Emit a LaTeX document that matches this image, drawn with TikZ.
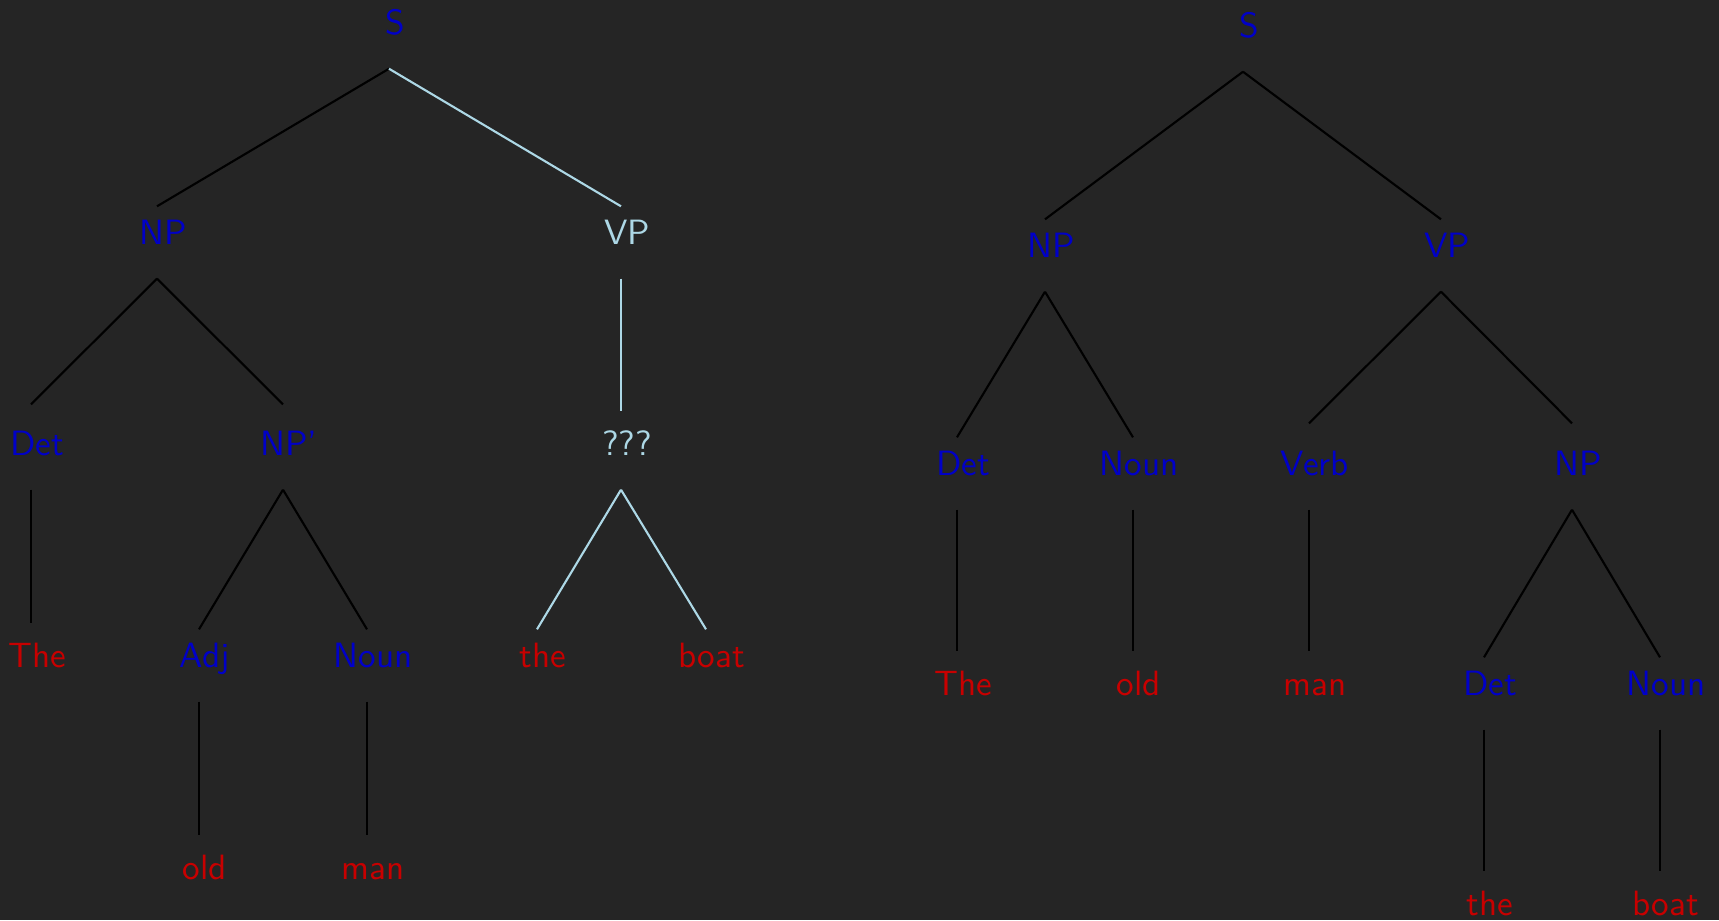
\documentclass[tikz,border=0pt]{standalone}
\usepackage{tikz}
\definecolor{bgdark}{RGB}{37,37,37}
\definecolor{catblue}{RGB}{0,0,200}
\definecolor{wordred}{RGB}{200,0,0}
\definecolor{guessblue}{RGB}{173,216,230}

\begin{document}
\begin{tikzpicture}[
    tag/.style={inner xsep=2pt, inner ysep=0pt, text height=0.375cm, text depth=0.335cm, anchor=base, font=\sffamily},
    cat/.style={tag, text=catblue},
    word/.style={tag, text=wordred},
    guess/.style={tag, text=guessblue},
    branch/.style={draw=black, line width=0.6pt, transform canvas={xshift=-0.06cm}},
    stem/.style={branch, shorten >=0.06cm}
]

% Background
\fill[bgdark] (0,0) rectangle (17.19,-9.20);
\useasboundingbox (0,0) rectangle (17.19,-9.20);

% Left tree: unknown VP
\node[cat] (s1) at (3.95,-0.345) {S};
\node[cat] (np1) at (1.63,-2.445) {NP};
\node[guess] (vp1) at (6.27,-2.445) {VP};
\node[cat] (det1) at (0.37,-4.555) {Det};
\node[cat] (npbar) at (2.89,-4.555) {NP'};
\node[guess] (qqq) at (6.27,-4.555) {???};
\node[word] (the1) at (0.37,-6.675) {The};
\node[cat] (adj) at (2.05,-6.675) {Adj};
\node[cat] (noun1) at (3.73,-6.675) {Noun};
\node[word] (the2) at (5.43,-6.675) {the};
\node[word] (boat1) at (7.12,-6.675) {boat};
\node[word] (old1) at (2.05,-8.795) {old};
\node[word] (man1) at (3.73,-8.795) {man};

\draw[branch] (s1.south) -- (np1.north);
\draw[branch, guessblue] (s1.south) -- (vp1.north);
\draw[branch] (np1.south) -- ([yshift=0.13cm]det1.north);
\draw[branch] (np1.south) -- ([yshift=0.13cm]npbar.north);
\draw[stem, guessblue] (vp1.south) -- (qqq.north);
\draw[stem] (det1.south) -- (the1.north);
\draw[branch] (npbar.south) -- (adj.north);
\draw[branch] (npbar.south) -- (noun1.north);
\draw[branch, guessblue] (qqq.south) -- (the2.north);
\draw[branch, guessblue] (qqq.south) -- (boat1.north);
\draw[stem] (adj.south) -- (old1.north);
\draw[stem] (noun1.south) -- (man1.north);

% Right tree: full parse
\node[cat] (s2) at (12.49,-0.375) {S};
\node[cat] (np2) at (10.51,-2.575) {NP};
\node[cat] (vp2) at (14.47,-2.575) {VP};
\node[cat] (det2) at (9.63,-4.755) {Det};
\node[cat] (noun2) at (11.39,-4.755) {Noun};
\node[cat] (verb2) at (13.15,-4.755) {Verb};
\node[cat] (np3) at (15.78,-4.755) {NP};
\node[word] (the3) at (9.63,-6.955) {The};
\node[word] (old2) at (11.39,-6.955) {old};
\node[word] (man2) at (13.15,-6.955) {man};
\node[cat] (det3) at (14.90,-6.955) {Det};
\node[cat] (noun3) at (16.66,-6.955) {Noun};
\node[word] (the4) at (14.90,-9.155) {the};
\node[word] (boat2) at (16.66,-9.155) {boat};

\draw[branch] (s2.south) -- (np2.north);
\draw[branch] (s2.south) -- (vp2.north);
\draw[branch] (np2.south) -- (det2.north);
\draw[branch] (np2.south) -- (noun2.north);
\draw[branch] (vp2.south) -- ([yshift=0.14cm]verb2.north);
\draw[branch] (vp2.south) -- ([yshift=0.14cm]np3.north);
\draw[stem] (det2.south) -- (the3.north);
\draw[stem] (noun2.south) -- (old2.north);
\draw[stem] (verb2.south) -- (man2.north);
\draw[branch] (np3.south) -- (det3.north);
\draw[branch] (np3.south) -- (noun3.north);
\draw[stem] (det3.south) -- (the4.north);
\draw[stem] (noun3.south) -- (boat2.north);

\end{tikzpicture}
\end{document}
